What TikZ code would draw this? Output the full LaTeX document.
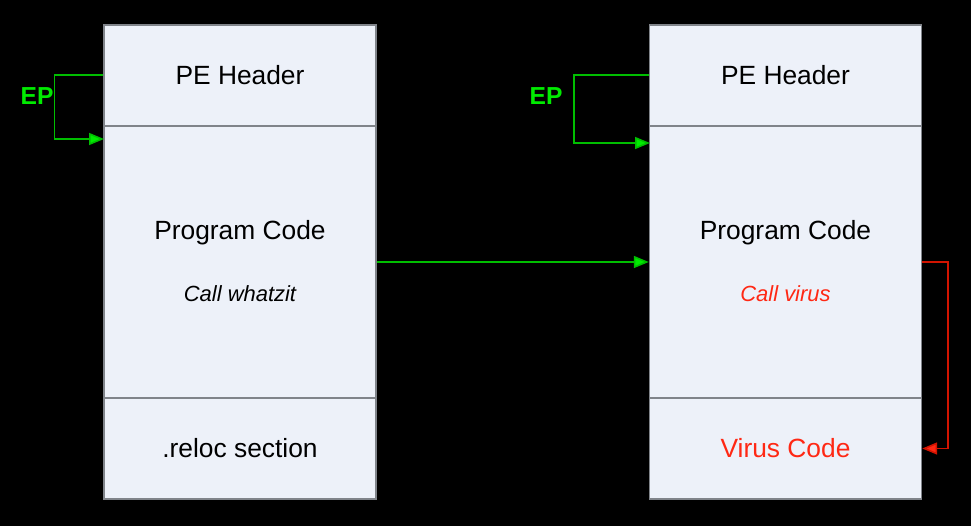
\documentclass[tikz,border=0pt]{standalone}
\usepackage{fontspec}
\setmainfont{Liberation Sans}
\usepackage{tikz}
\usetikzlibrary{arrows.meta}
\definecolor{secfill}{RGB}{237,241,249}
\definecolor{secline}{RGB}{128,132,138}
\definecolor{eptext}{RGB}{0,235,0}
\definecolor{epline}{RGB}{0,190,0}
\definecolor{virline}{RGB}{210,20,0}
\definecolor{virtext}{RGB}{255,40,20}
\newcommand{\tikzSectionNode}[4]{
  \node[draw=secline,line width=0.8pt,fill=secfill,rectangle,inner sep=0pt,minimum width=5.44cm,minimum height=#3] (#1) at (#2) {#4};
}
\newcommand{\bigtxt}{\fontsize{15}{18}\selectfont}
\newcommand{\smalltxt}{\fontsize{12.5}{15}\selectfont\itshape}

\begin{document}
\begin{tikzpicture}[semithick,x=0.02cm,y=-0.02cm,
  green arrow/.style={draw=epline,line width=0.9pt,-{Triangle[length=0.3cm,width=0.24cm,fill=eptext]}},
  red arrow/.style={draw=virline,line width=0.9pt,-{Triangle[length=0.3cm,width=0.24cm,fill=virtext]}}]

  \fill[black] (0,0) rectangle (971,526);
  \useasboundingbox (0,0) rectangle (971,526);

  % original file
  \tikzSectionNode{lhead}{240,75.5}{2.02cm}{\bigtxt PE Header}
  \tikzSectionNode{lcode}{240,262}{5.44cm}{}
  \tikzSectionNode{lreloc}{240,448.5}{2.02cm}{\bigtxt .reloc section}
  \node (lprog) at (240,233) {\bigtxt Program Code};
  \node (lcall) at (240,294) {\smalltxt Call whatzit};

  \coordinate (lep) at (104,139);
  \path[green arrow] ([yshift=0.01cm]lhead.west) -- ++(-49,0) |- (lep);
  \node [text=eptext] (leplabel) at (37,96) {\fontsize{14}{16}\selectfont\bfseries EP};

  % infected file
  \tikzSectionNode{rhead}{785.5,75.5}{2.02cm}{\bigtxt PE Header}
  \tikzSectionNode{rcode}{785.5,262}{5.44cm}{}
  \tikzSectionNode{rvirus}{785.5,448.5}{2.02cm}{\bigtxt\color{virtext} Virus Code}
  \node (rprog) at (785.5,233) {\bigtxt Program Code};
  \node [text=virtext] (rcall) at (785.5,294) {\smalltxt Call virus};

  \coordinate (rep) at (650,143);
  \path[green arrow] ([yshift=0.01cm]rhead.west) -- ++(-75,0) |- (rep);
  \node [text=eptext] (replabel) at (546,96) {\fontsize{14}{16}\selectfont\bfseries EP};

  \path[green arrow] (lcode.east) -- (rcode.west);
  \path[red arrow] (rcode.east) -- ++(26,0) |- (rvirus.east);

\end{tikzpicture}
\end{document}
